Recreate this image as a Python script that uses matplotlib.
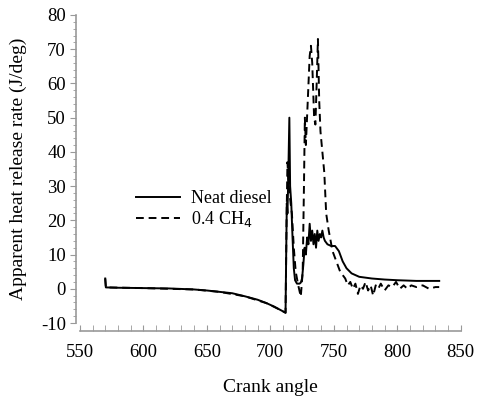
import matplotlib
matplotlib.use('Agg')
import matplotlib.pyplot as plt
from matplotlib.ticker import MultipleLocator

plt.rcParams['font.family'] = ['Liberation Serif', 'DejaVu Serif']
plt.rcParams['axes.unicode_minus'] = False

# Neat diesel (solid)
diesel_x = [570, 570.5, 580, 600, 620, 640, 650, 660, 670, 680, 690, 697, 703, 708, 711, 712,
            712.5, 713, 713.5, 714, 715, 715.6, 716.5, 717.5, 718.5, 719.5, 721, 723, 724, 725,
            726, 727, 728, 729, 730, 731, 732, 733, 734, 735, 736, 737, 738, 739, 740, 741,
            742, 743, 745, 748, 751, 754, 757, 760, 764, 770, 780, 790, 800, 815, 833]
diesel_y = [3.0, 0.4, 0.3, 0.2, 0.1, -0.2, -0.5, -0.9, -1.3, -2.2, -3.2, -4.2, -5.2, -6.2, -6.8, -7.0,
            10, 25, 22, 30, 50, 30, 25, 15, 6, 2.5, 1.5, 1.5, 1.8, 3,
            7, 12, 10, 15, 13, 19, 14, 17, 13, 16, 12, 17, 14, 16, 15, 17,
            15, 14, 13, 12.5, 12.5, 11, 8, 6, 4.5, 3.5, 3, 2.7, 2.5, 2.3, 2.3]

# 0.4 CH4 (dashed)
ch4_x = [570, 570.5, 600, 640, 660, 680, 697, 708, 712,
         712.8, 713.5, 714.5, 716, 717, 718.5, 720, 722, 724, 725.5, 726.5, 727.2, 728,
         729.5, 731, 732, 733, 734.5, 735.5, 736.5, 737.5, 738.5, 739.5, 741, 742.5, 744,
         746, 747.5, 749, 751, 753, 755, 757, 759, 761, 763, 765, 767, 769, 771, 773, 775,
         777, 779, 781, 783, 785, 787, 790, 793, 796, 799, 802, 805, 808, 811, 815, 820,
         825, 830, 833]
ch4_y = [3.0, 0.4, 0.2, -0.2, -0.9, -2.2, -4.2, -6.2, -7.0,
         20, 37, 30, 25, 22, 12, 5, 1, -2.3, 5, 30, 50, 42,
         55, 68, 71, 66, 50, 48, 60, 73, 55, 46, 40, 34, 22,
         17, 14, 11, 9, 7, 5, 4, 3, 1, 2, 0, 1.5, -1.5, 1, 0, 2,
         -0.5, 1, -2, 1, 0, 1.5, -0.5, 1, 0.5, 2, 0, 1, 0, 1, 0.5, 1,
         0, 0.5, 0.5]

fig = plt.figure(figsize=(4.78, 4.0), dpi=100)
ax = fig.add_axes([0.167, 0.1925, 0.797, 0.77])

ax.plot(diesel_x, diesel_y, color='black', lw=1.4, label='Neat diesel')
ax.plot(ch4_x, ch4_y, color='black', lw=1.4, linestyle=(0, (4, 2.5)), label='0.4 CH$_4$')

ax.set_xlim(550, 850)
ax.set_ylim(-10, 80)
ax.xaxis.set_major_locator(MultipleLocator(50))
ax.xaxis.set_minor_locator(MultipleLocator(10))
ax.yaxis.set_major_locator(MultipleLocator(10))
ax.yaxis.set_minor_locator(MultipleLocator(2))

for s in ['top', 'right']:
    ax.spines[s].set_visible(False)
for s in ['left', 'bottom']:
    ax.spines[s].set_color('#999999')
    ax.spines[s].set_linewidth(1.2)
ax.spines['bottom'].set_position(('outward', 6))
ax.spines['left'].set_position(('outward', 3))

ax.tick_params(axis='x', which='both', direction='in', length=4, color='#999999',
               labelsize=13.5, pad=9)
ax.tick_params(axis='y', which='major', direction='out', length=4, color='#999999',
               labelsize=13.5, pad=3)
ax.tick_params(axis='y', which='minor', direction='out', length=2, color='#999999')

ax.set_xlabel('Crank angle', fontsize=14, labelpad=13)
ax.set_ylabel('Apparent heat release rate (J/deg)', fontsize=14, labelpad=10)

ax.legend(loc='upper left', bbox_to_anchor=(0.125, 0.46), frameon=False, fontsize=13,
          handlelength=2.4, handletextpad=0.6, labelspacing=0.1, borderpad=0)

fig.savefig('out.png', dpi=100)
